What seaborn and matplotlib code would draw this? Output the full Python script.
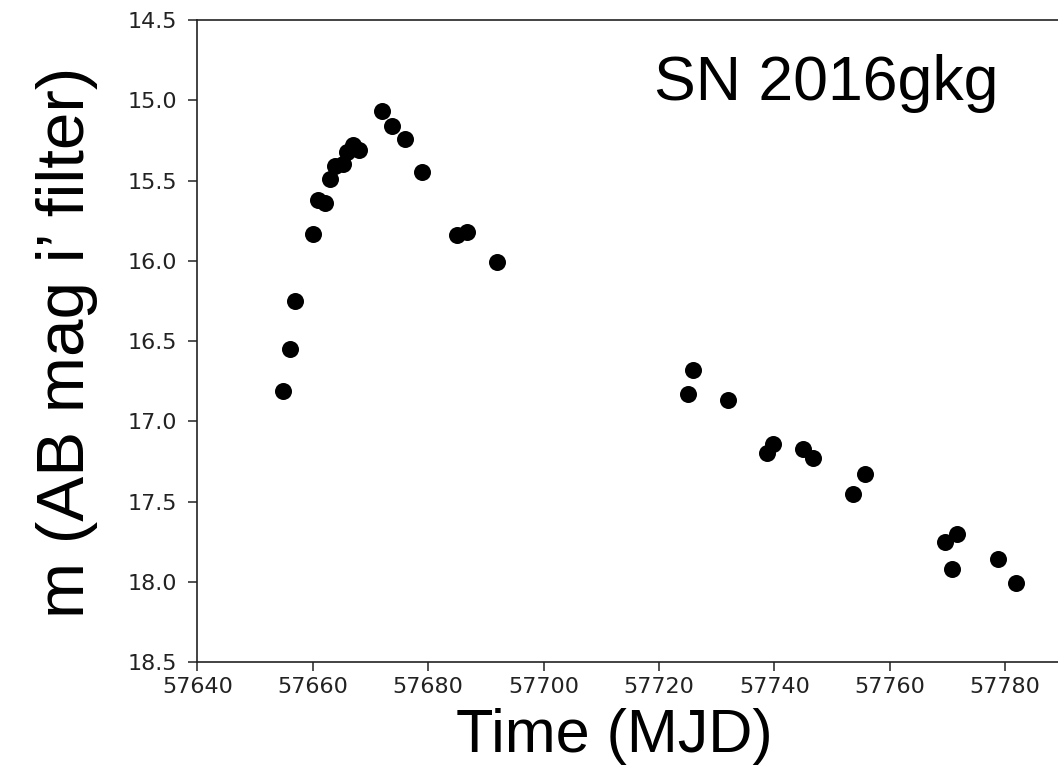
import numpy as np
import pandas as pd
import seaborn as sns
import matplotlib.pyplot as plt

# light curve of SN 2016gkg, i' band
mjd = [57654.8, 57656.1, 57657.0, 57660.0, 57660.9, 57662.2, 57663.0, 57663.9,
       57665.2, 57665.9, 57666.9, 57668.1, 57672.0, 57673.8, 57676.0, 57679.0,
       57685.0, 57686.8, 57692.0, 57725.0, 57725.9, 57731.9, 57738.8, 57739.7,
       57744.9, 57746.7, 57753.6, 57755.8, 57769.6, 57770.8, 57771.7, 57778.7,
       57781.8]
mag = [16.81, 16.55, 16.25, 15.83, 15.62, 15.64, 15.49, 15.41,
       15.40, 15.32, 15.28, 15.31, 15.065, 15.16, 15.24, 15.445,
       15.84, 15.82, 16.01, 16.83, 16.68, 16.87, 17.20, 17.14,
       17.17, 17.23, 17.45, 17.33, 17.75, 17.92, 17.70, 17.86,
       18.01]
x_ticks = [57640, 57660, 57680, 57700, 57720, 57740, 57760, 57780]
y_ticks = [14.5, 15.0, 15.5, 16.0, 16.5, 17.0, 17.5, 18.0, 18.5]

df = pd.DataFrame({"mjd": mjd, "mag": mag})

fig = plt.figure(figsize=(10.58, 7.65), dpi=100)
# axes runs past the right edge of the picture, like the cropped original
ax = fig.add_axes([0.1865, 0.1346, 0.8726, 0.8392])

sns.scatterplot(data=df, x="mjd", y="mag", ax=ax, color="black",
                s=150, linewidth=0, legend=False)

ax.set_xlim(57640, 57800)
ax.set_ylim(18.5, 14.5)
ax.set_xticks(x_ticks)
ax.set_yticks(y_ticks)
ax.set_yticklabels([f"{v:.1f}" for v in y_ticks])
ax.set_xlabel("")
ax.set_ylabel("")

for s in ax.spines.values():
    s.set_linewidth(1.2)
    s.set_color("#222222")
ax.tick_params(axis="both", length=6.5, width=1.1, color="#222222",
               labelsize=16, labelcolor="#222222")
ax.tick_params(axis="y", pad=8)
ax.tick_params(axis="x", pad=4)
for lab in ax.get_xticklabels() + ax.get_yticklabels():
    lab.set_fontfamily("DejaVu Sans")

big = ["Liberation Sans", "DejaVu Sans"]
fig.text(0.5803, 0.017, "Time (MJD)", fontsize=44, family=big,
         ha="center", va="baseline")
fig.text(0.063, 0.553, "m (AB mag i\u2019 filter)", fontsize=48.5, family=big,
         rotation=90, ha="center", va="center")
fig.text(0.618, 0.8693, "SN 2016gkg", fontsize=45, family=big,
         ha="left", va="baseline")

fig.savefig("out.png", dpi=100)
